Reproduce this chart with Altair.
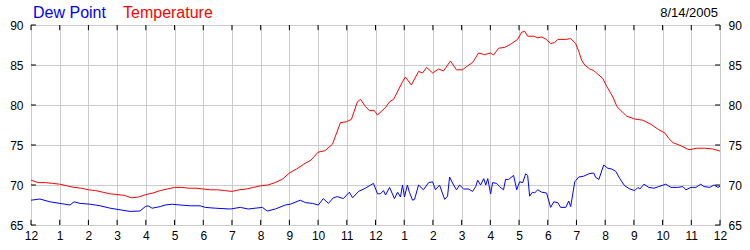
import altair as alt
import pandas as pd

# ---------------- data ----------------
temp_hours = [0, 0.25, 0.5, 0.75, 1.0, 1.25, 1.5, 1.75, 2.0, 2.25, 2.5, 2.75, 3.0, 3.25,
              3.5, 3.75, 4.0, 4.25, 4.5, 4.75, 5.0, 5.25, 5.5, 5.75, 6.0, 6.25, 6.5, 6.75,
              7.0, 7.25, 7.5, 7.75, 8.0, 8.25, 8.5, 8.75, 9.0, 9.25, 9.5, 9.75, 10.0, 10.25,
              10.5, 10.78, 10.99, 11.16, 11.37, 11.48, 11.65, 11.79, 11.96, 12.07, 12.35,
              12.49, 12.63, 12.94, 13.04, 13.25, 13.5, 13.64, 13.78, 13.99, 14.2, 14.37,
              14.61, 14.82, 15.03, 15.21, 15.38, 15.59, 15.8, 16.01, 16.11, 16.29, 16.5,
              16.71, 16.95, 17.09, 17.2, 17.3, 17.51, 17.65, 17.79, 17.93, 18.1, 18.24,
              18.35, 18.63, 18.8, 18.97, 19.08, 19.18, 19.29, 19.46, 19.6, 19.78, 19.92,
              20.06, 20.27, 20.41, 20.55, 20.75, 21.03, 21.31, 21.59, 21.87, 22.08, 22.22,
              22.36, 22.64, 22.92, 23.19, 23.47, 23.75, 24.0]
temp_values = [70.6, 70.3, 70.3, 70.2, 70.1, 69.9, 69.7, 69.6, 69.4, 69.3, 69.1, 68.9, 68.8, 68.7,
               68.4, 68.5, 68.8, 69.0, 69.3, 69.5, 69.7, 69.7, 69.6, 69.6, 69.5, 69.4, 69.4, 69.3,
               69.2, 69.4, 69.5, 69.7, 69.9, 70.0, 70.3, 70.7, 71.5, 72.0, 72.6, 73.1, 74.1, 74.3,
               75.1, 77.8, 77.9, 78.2, 80.4, 80.7, 79.8, 79.3, 79.3, 78.75, 79.7,
               80.4, 80.7, 82.9, 83.5, 82.5, 84.2, 84.0, 84.7, 84.0, 84.5, 84.25,
               85.5, 84.4, 84.4, 84.9, 85.3, 86.5, 86.3, 86.5, 86.25, 87.1, 87.2,
               87.6, 88.2, 89.1, 89.2, 88.6, 88.6, 88.4, 88.5, 88.25, 87.7, 87.8,
               88.2, 88.2, 88.3, 87.7, 86.7, 85.6, 85.0, 84.5, 84.3, 83.75, 83.3,
               82.3, 81.0, 79.8, 79.3, 78.6, 78.25, 78.1, 77.6, 76.9, 76.5, 75.8,
               75.3, 74.9, 74.4, 74.6, 74.6, 74.5, 74.25]

dew_hours = [0.0, 0.31, 0.66, 1.01, 1.36, 1.5, 1.71, 2.06, 2.41, 2.76, 3.1, 3.45, 3.8, 3.98,
             4.08, 4.22, 4.5, 4.67, 4.92, 5.19, 5.55, 5.89, 6.07, 6.42, 6.94, 7.29, 7.57, 7.81,
             8.06, 8.23, 8.51, 8.86, 9.03, 9.38, 9.56, 9.8, 10.01, 10.18, 10.36, 10.53, 10.67,
             10.88, 11.09, 11.2, 11.41, 11.65, 11.83, 11.93, 12.07, 12.17, 12.28, 12.35, 12.49,
             12.66, 12.77, 12.87, 12.94, 13.01, 13.11, 13.18, 13.29, 13.36, 13.5, 13.67, 13.85,
             13.99, 14.09, 14.23, 14.41, 14.51, 14.58, 14.72, 14.82, 14.93, 15.07, 15.24, 15.38,
             15.49, 15.56, 15.66, 15.77, 15.84, 15.91, 16.01, 16.08, 16.22, 16.32, 16.46, 16.53,
             16.64, 16.81, 16.92, 17.02, 17.13, 17.23, 17.3, 17.37, 17.47, 17.54, 17.65, 17.79,
             17.96, 18.1, 18.21, 18.35, 18.45, 18.63, 18.73, 18.8, 18.94, 19.08, 19.25, 19.43,
             19.6, 19.67, 19.78, 19.95, 20.09, 20.23, 20.37, 20.51, 20.68, 20.86, 21.03, 21.14,
             21.21, 21.35, 21.52, 21.7, 21.87, 22.11, 22.29, 22.53, 22.71, 22.81, 22.99, 23.16,
             23.33, 23.44, 23.64, 23.79, 23.93, 24.0]
dew_values = [68.1, 68.25, 67.9, 67.7, 67.5, 67.9, 67.7, 67.6, 67.4, 67.1, 66.9, 66.7, 66.75, 67.3,
              67.4, 67.1, 67.3, 67.5, 67.6, 67.5, 67.4, 67.4, 67.2, 67.1, 67.0, 67.2, 67.0, 67.1,
              67.2, 66.75, 67.0, 67.5, 67.6, 68.1, 67.8, 67.7, 67.5, 68.3, 67.7, 68.4, 68.55,
              68.3, 69.1, 68.4, 69.2, 69.6, 70.0, 70.2, 68.9, 68.9, 69.3, 68.75, 69.7,
              68.3, 69.1, 68.5, 70.0, 68.5, 70.0, 69.1, 68.1, 68.2, 70.0, 69.4, 70.3,
              70.4, 69.4, 70.0, 68.2, 68.6, 71.0, 70.0, 69.4, 70.0, 69.5, 69.5, 69.2,
              69.8, 70.6, 70.0, 70.8, 70.0, 70.8, 68.9, 70.3, 70.2, 69.8, 69.4, 70.7,
              70.7, 71.2, 69.4, 70.4, 70.3, 71.4, 71.2, 68.6, 69.1, 69.0, 69.4, 69.1,
              69.0, 67.2, 67.9, 67.8, 67.2, 67.2, 68.0, 67.3, 70.4, 71.0, 71.1, 71.4,
              71.5, 70.95, 70.7, 72.5, 72.1, 72.0, 71.7, 70.8, 69.9, 69.5, 69.3, 69.7,
              69.5, 70.1, 69.7, 69.6, 69.8, 70.1, 69.7, 69.7, 69.8, 69.4, 69.7, 69.7,
              70.1, 69.8, 69.7, 70.0, 69.7, 69.85]

series_names = ["Dew Point", "Temperature"]
series_colors = ["#0000ff", "#ff0000"]
hour_ticks = list(range(25))
deg_ticks = [65, 70, 75, 80, 85, 90]
date_text = "8/14/2005"

df = pd.concat([
    pd.DataFrame({"hour": dew_hours, "value": dew_values, "series": "Dew Point"}),
    pd.DataFrame({"hour": temp_hours, "value": temp_values, "series": "Temperature"}),
])

FONT = "Liberation Sans"
W, H = 689, 200
X = alt.Scale(domain=[0, 24], nice=False, zero=False)
Y = alt.Scale(domain=[65, 90], nice=False, zero=False)
GRID = "#cccccc"

XAX = alt.Axis(
    orient="bottom", values=hour_ticks, title=None, grid=True, gridColor=GRID,
    ticks=False, domain=False, labelPadding=5, labelFlush=False,
    labelExpr="datum.value % 12 == 0 ? '12' : '' + (datum.value % 12)")

lines = alt.Chart(df).mark_line(strokeWidth=1, clip=True).encode(
    x=alt.X("hour:Q", scale=X, axis=XAX),
    y=alt.Y("value:Q", scale=Y, axis=alt.Axis(
        orient="left", values=deg_ticks, title=None, grid=True, gridColor=GRID,
        ticks=False, domain=False, labelPadding=8, labelFlush=False)),
    color=alt.Color("series:N", scale=alt.Scale(domain=series_names, range=series_colors),
                    legend=None),
)

hdf = pd.DataFrame({"hour": hour_ticks})
ddf = pd.DataFrame({"deg": deg_ticks})

bottom_ticks = alt.Chart(hdf).mark_rule(color="black", strokeWidth=1).encode(
    x=alt.X("hour:Q", scale=X, axis=XAX),
    y=alt.YDatum(65, scale=Y, axis=None),
    y2=alt.Y2Datum(65.65),
)
top_ticks = alt.Chart(hdf).mark_rule(color="black", strokeWidth=1).encode(
    x=alt.X("hour:Q", scale=X, axis=XAX),
    y=alt.YDatum(90, scale=Y, axis=None),
    y2=alt.Y2Datum(89.35),
)
left_ticks = alt.Chart(ddf).mark_rule(color="black", strokeWidth=1).encode(
    x=alt.XDatum(0, scale=X, axis=XAX),
    x2=alt.X2Datum(0.17),
    y=alt.Y("deg:Q", scale=Y, axis=None),
)
right_ticks = alt.Chart(ddf).mark_rule(color="black", strokeWidth=1).encode(
    x=alt.XDatum(24, scale=X, axis=XAX),
    x2=alt.X2Datum(23.83),
    y=alt.Y("deg:Q", scale=Y, axis=alt.Axis(
        orient="right", values=deg_ticks, title=None, grid=False, ticks=False,
        domain=False, labelPadding=8, labelFlush=False)),
)

title_dew = alt.Chart(pd.DataFrame({"t": [series_names[0]]})).mark_text(
    align="left", baseline="alphabetic", font=FONT, fontSize=16, color=series_colors[0]
).encode(text="t:N", x=alt.value(2), y=alt.value(-7))
title_temp = alt.Chart(pd.DataFrame({"t": [series_names[1]]})).mark_text(
    align="left", baseline="alphabetic", font=FONT, fontSize=16, color=series_colors[1]
).encode(text="t:N", x=alt.value(92), y=alt.value(-7))
date_label = alt.Chart(pd.DataFrame({"t": [date_text]})).mark_text(
    align="right", baseline="alphabetic", font=FONT, fontSize=13, color="#000000"
).encode(text="t:N", x=alt.value(687), y=alt.value(-8))

chart = alt.layer(
    lines, bottom_ticks, top_ticks, left_ticks, right_ticks,
    title_dew, title_temp, date_label
).resolve_scale(y="independent").properties(
    width=W, height=H,
    autosize=alt.AutoSizeParams(type="none"),
    padding={"left": 31, "top": 25, "right": 30, "bottom": 25},
    background="white",
).configure_view(
    stroke="black", strokeWidth=1
).configure_axis(
    labelFont=FONT, labelFontSize=12, labelColor="#000000"
)

chart.save("out.html", embed_options={"renderer": "svg", "actions": False})
